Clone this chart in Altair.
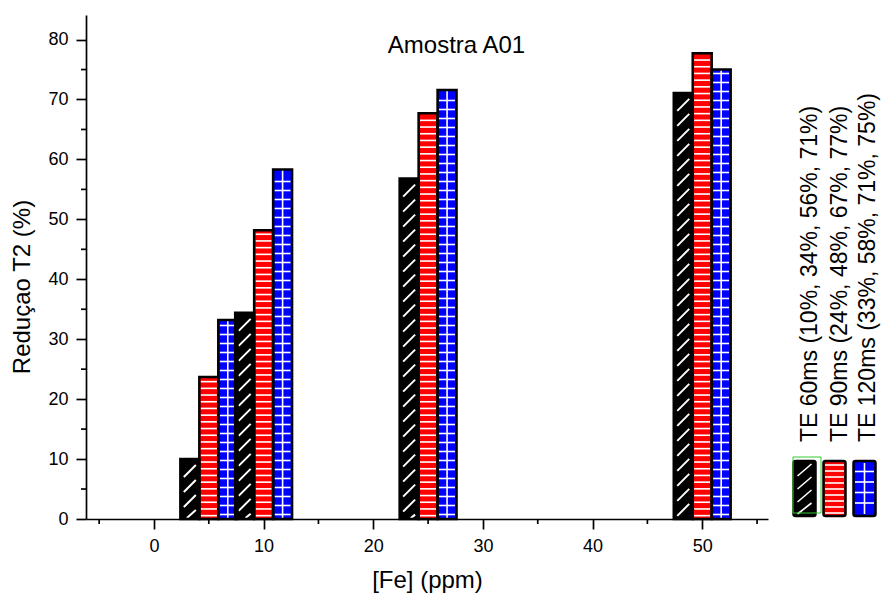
import altair as alt
import pandas as pd

# ---------------- data ----------------
fe_values = [5, 10, 25, 50]
series_names = ["TE 60ms", "TE 90ms", "TE 120ms"]
legend_labels = ["TE 60ms (10%, 34%, 56%, 71%)",
                 "TE 90ms (24%, 48%, 67%, 77%)",
                 "TE 120ms (33%, 58%, 71%, 75%)"]
te60 = [10.0, 34.4, 56.8, 71.1]
te90 = [23.7, 48.2, 67.7, 77.7]
te120 = [33.2, 58.3, 71.6, 75.0]
series_colors = ["#000000", "#ff0000", "#0000ff"]
x_major = [0, 10, 20, 30, 40, 50]
x_minor = [-5, 5, 15, 25, 35, 45, 55]
y_major = [0, 10, 20, 30, 40, 50, 60, 70, 80]
y_minor = [5, 15, 25, 35, 45, 55, 65, 75]
chart_title = "Amostra A01"
x_title = "[Fe] (ppm)"
y_title = "Reduçao T2 (%)"

# ---------------- layout ----------------
W, H = 682, 504
X_DOMAIN = [-6.2, 56.0]
Y_DOMAIN = [0, 84.1]
BAR_W = 1.73
FONT = "Liberation Sans"
px_x = W / (X_DOMAIN[1] - X_DOMAIN[0])
px_y = H / (Y_DOMAIN[1] - Y_DOMAIN[0])

rows = []
for si, (name, vals) in enumerate(zip(series_names, [te60, te90, te120])):
    for fe, v in zip(fe_values, vals):
        c = fe + (si - 1) * BAR_W
        rows.append(dict(series=name, fe=fe, value=v, base=0.0, cx=c,
                         x0=c - BAR_W / 2, x1=c + BAR_W / 2,
                         color=series_colors[si], pattern=si))
bars_df = pd.DataFrame(rows)

# pattern lines derived from the bars
diag, horiz, grid = [], [], []
inset = 1.4 / px_x
for r in rows:
    v, cx, x0, x1 = r["value"], r["cx"], r["x0"], r["x1"]
    if r["pattern"] == 0:
        step, seg_h, seg_w = 15 / px_y, 12 / px_y, 12 / px_x
        top = v - 6 / px_y
        while top > 0.4:
            bot = top - seg_h
            xa, xb = cx - seg_w / 2, cx + seg_w / 2
            if bot < 0:
                xa += (-bot / seg_h) * seg_w
                bot = 0.15
            diag.append(dict(xa=xa, xb=xb, ya=bot, yb=top))
            top -= step
    elif r["pattern"] == 1:
        step = 6.7 / px_y
        y = step / 2
        while y < v - 3 / px_y:
            horiz.append(dict(xa=x0 + inset, xb=x1 - inset, ya=y, yb=y))
            y += step
    else:
        step = 9 / px_y
        y = step / 2
        while y < v - 3 / px_y:
            grid.append(dict(xa=x0 + inset, xb=x1 - inset, ya=y, yb=y))
            y += step
        grid.append(dict(xa=cx, xb=cx, ya=0.0, yb=v))

xs = alt.Scale(domain=X_DOMAIN, nice=False, zero=False)
ys = alt.Scale(domain=Y_DOMAIN, nice=False)

common_axis = dict(domainColor="black", domainWidth=1.7, tickColor="black", tickWidth=1.7,
                   tickSize=10, labelFont=FONT, labelFontSize=18, labelColor="black",
                   titleFont=FONT, titleFontSize=24, titleFontWeight="normal",
                   titleColor="black", grid=False, labelPadding=8)
xax = alt.Axis(values=x_major, title=x_title, format="d", titleY=61,
               titleBaseline="middle", **common_axis)
yax = alt.Axis(values=y_major, title=y_title, format="d", titleX=-64, titleY=271.5,
               titleAngle=270, titleAlign="center", titleBaseline="middle", **common_axis)

bars_fill = alt.Chart(bars_df).mark_rect().encode(
    x=alt.X("x0:Q", scale=xs, axis=xax), x2="x1:Q",
    y=alt.Y("value:Q", scale=ys, axis=yax), y2="base:Q",
    color=alt.Color("color:N", scale=None))


def hatch_layer(data, width):
    return alt.Chart(pd.DataFrame(data)).mark_rule(color="white", strokeWidth=width).encode(
        x=alt.X("xa:Q", scale=xs, axis=xax), x2="xb:Q",
        y=alt.Y("ya:Q", scale=ys, axis=yax), y2="yb:Q")


bars_outline = alt.Chart(bars_df).mark_rect(fillOpacity=0, stroke="black", strokeWidth=2.5).encode(
    x=alt.X("x0:Q", scale=xs, axis=xax), x2="x1:Q",
    y=alt.Y("value:Q", scale=ys, axis=yax), y2="base:Q")

xminor_layer = alt.Chart(pd.DataFrame({"v": x_minor})).mark_rule(color="black", strokeWidth=1.7).encode(
    x=alt.X("v:Q", scale=xs, axis=xax), y=alt.value(H), y2=alt.value(H + 5))
yminor_layer = alt.Chart(pd.DataFrame({"v": y_minor})).mark_rule(color="black", strokeWidth=1.7).encode(
    y=alt.Y("v:Q", scale=ys, axis=yax), x=alt.value(0), x2=alt.value(-5))

title_layer = alt.Chart(pd.DataFrame({"t": [chart_title]})).mark_text(
    font=FONT, fontSize=24, align="center", baseline="alphabetic", color="black").encode(
    text="t:N", x=alt.value(370.5), y=alt.value(38.3))

main = alt.layer(bars_fill, hatch_layer(horiz, 1.6), hatch_layer(grid, 1.6),
                 hatch_layer(diag, 2.0), bars_outline, xminor_layer, yminor_layer, title_layer)

# ---------------- legend (pixel layout) ----------------
sw_centers = [718.5, 748.5, 778.5]
text_x = [724, 753.5, 782]
SW_W, SW_TOP, SW_BOT = 22, 446, 501
sw_df = pd.DataFrame(dict(x0=[c - SW_W / 2 for c in sw_centers],
                          x1=[c + SW_W / 2 for c in sw_centers],
                          y0=[SW_TOP] * 3, y1=[SW_BOT] * 3, color=series_colors))
sw_lines = []
c0, c1, c2 = sw_centers
for k in range(4):
    t = 449 + 13 * k
    sw_lines.append(dict(xa=c0 - 7, ya=min(t + 12, 499), xb=c0 + 7, yb=t))
yy = 450
while yy <= 498:
    sw_lines.append(dict(xa=c1 - 9.5, ya=yy, xb=c1 + 9.5, yb=yy))
    yy += 6
for yy in [456.5, 467, 477.5, 488]:
    sw_lines.append(dict(xa=c2 - 9.5, ya=yy, xb=c2 + 9.5, yb=yy))
sw_lines.append(dict(xa=c2, ya=448, xb=c2, yb=499))

px = lambda f: alt.X(f, scale=None, axis=None)
py = lambda f: alt.Y(f, scale=None, axis=None)

sw_fill = alt.Chart(sw_df).mark_rect(cornerRadius=2).encode(
    x=px("x0:Q"), x2="x1:Q", y=py("y0:Q"), y2="y1:Q", color=alt.Color("color:N", scale=None))
sw_hatch = alt.Chart(pd.DataFrame(sw_lines)).mark_rule(color="white", strokeWidth=1.6).encode(
    x=px("xa:Q"), x2="xb:Q", y=py("ya:Q"), y2="yb:Q")
sw_outline = alt.Chart(sw_df).mark_rect(fillOpacity=0, stroke="black", strokeWidth=2.5, cornerRadius=2).encode(
    x=px("x0:Q"), x2="x1:Q", y=py("y0:Q"), y2="y1:Q")
sel_box = alt.Chart(pd.DataFrame({"a": [0]})).mark_rect(fillOpacity=0, stroke="#33cc33", strokeWidth=1).encode(
    x=alt.value(707), x2=alt.value(735), y=alt.value(442), y2=alt.value(498))
leg_text = alt.Chart(pd.DataFrame(dict(label=legend_labels, tx=text_x))).mark_text(
    font=FONT, fontSize=23, angle=270, align="left", baseline="middle", color="black").encode(
    x=px("tx:Q"), y=alt.value(427), text="label:N")

legend = alt.layer(sw_fill, sw_hatch, sw_outline, sel_box, leg_text)

chart = alt.layer(main, legend).resolve_scale(x="independent", y="independent").properties(
    width=W, height=H,
    padding={"left": 86, "top": 15, "right": 113, "bottom": 80},
    autosize=alt.AutoSizeParams(type="none"),
    background="white",
).configure_view(stroke=None)

chart.save("out.html", embed_options={"renderer": "svg", "actions": False})
